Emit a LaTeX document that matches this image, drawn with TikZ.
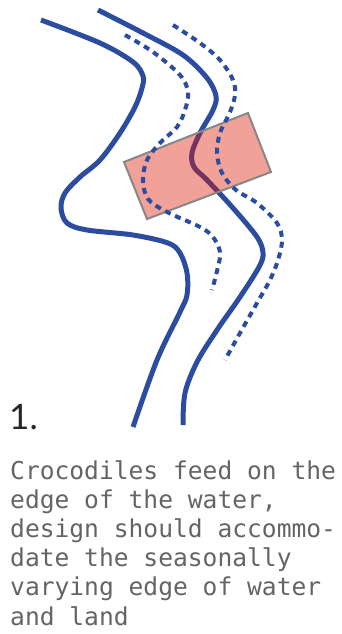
\documentclass[tikz,border=0pt]{standalone}
\usepackage{fontspec}
\newfontfamily\monofont{DejaVu Sans Mono}
\newfontfamily\numfont{Lato}
\definecolor{riverblue}{RGB}{44,76,160}
\definecolor{zonefill}{RGB}{222,20,0}
\definecolor{zoneedge}{RGB}{135,135,135}
\definecolor{textgray}{RGB}{100,100,100}
\tikzset{
  bank/.style={draw=riverblue, line width=5pt, line cap=butt},
  waterline/.style={draw=riverblue, line width=4pt, dash pattern=on 6pt off 5pt},
  zone/.style={fill=zonefill, fill opacity=0.4, draw=zoneedge, line width=2pt},
  captiontext/.style={inner sep=0, align=left, text=textgray, font={\monofont\fontsize{24.6}{29.2}\selectfont}},
}
\begin{document}
\begin{tikzpicture}[x=1pt,y=-1pt]
\useasboundingbox (0,0) rectangle (341,634);
% solid banks
\draw[bank] plot[smooth, tension=0.55] coordinates {(41,20) (100,43) (133,62) (143,76) (142,88) (135,107) (120,133) (100,160) (80,177) (65,193) (61,208) (67,223) (87,230) (133,235) (168,243) (180,253) (187,273) (187,295) (180,312) (157,360) (133,427)};
\draw[bank] plot[smooth, tension=0.55] coordinates {(98,10) (143,33) (183,55) (207,78) (216,96) (213,110) (200,133) (192,153) (194,167) (207,180) (233,208) (257,237) (263,253) (259,267) (240,297) (217,330) (197,362) (185,393) (183,425)};
% seasonal zone
\draw[zone] (124,162) -- (248,113) -- (271,172) -- (147,219) -- cycle;
% dashed water edges
\draw[waterline] plot[smooth, tension=0.55] coordinates {(125,35) (153,52) (180,75) (188,92) (185,110) (177,127) (160,143) (147,160) (143,180) (148,199) (167,212) (200,227) (213,237) (220,252) (218,267) (212,290)};
\draw[waterline] plot[smooth, tension=0.55] coordinates {(173,25) (200,43) (220,60) (233,80) (235,95) (230,112) (220,133) (217,153) (222,173) (236,190) (257,203) (277,223) (282,240) (278,260) (270,280) (257,303) (240,333) (225,360)};
% labels
\node[anchor=base west, inner sep=0, text=black!85, font={\numfont\fontsize{35}{40}\selectfont}] (num) at (9,429) {1.};
\node[captiontext, anchor=north west] (caption) at (10,460)
  {Crocodiles feed on the\\edge of the water,\\design should accommo-\\date the seasonally\\varying edge of water\\and land};
\end{tikzpicture}
\end{document}
